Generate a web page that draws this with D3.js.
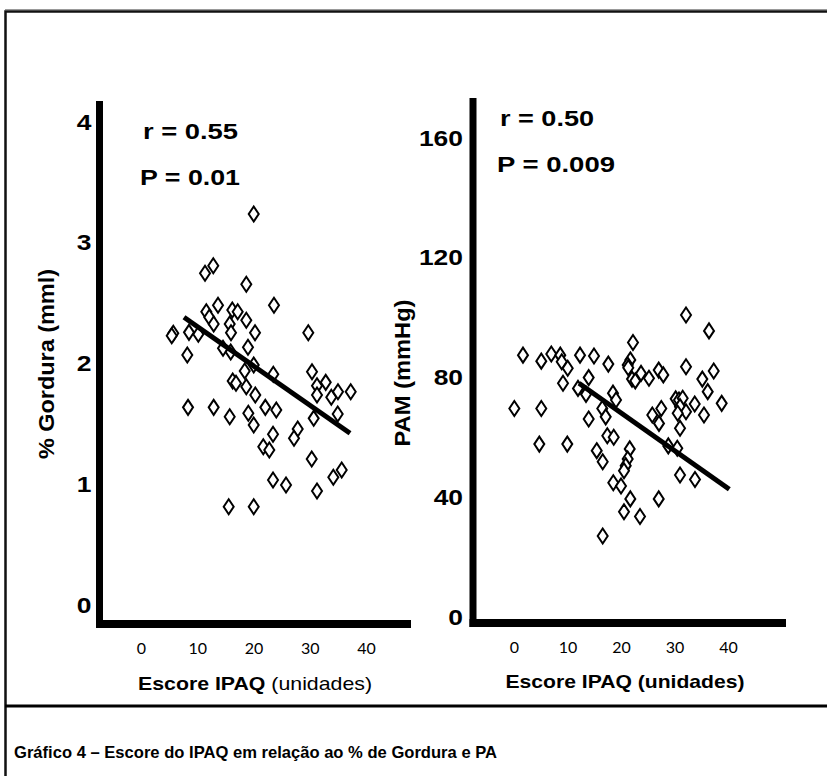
<!DOCTYPE html>
<html><head><meta charset="utf-8">
<script src="https://cdn.jsdelivr.net/npm/d3@7/dist/d3.min.js"></script>
<style>body{margin:0;background:#fff} svg{display:block}</style>
</head><body>
<svg id="chart" width="827" height="776"></svg>
<script>
// ---------- data ----------
const xTickValues = [0, 10, 20, 30, 40];
const leftYTickValues = [0, 1, 2, 3, 4];
const rightYTickValues = [0, 40, 80, 120, 160];

const leftIPAQ = [20.04,12.85,11.38,18.72,23.64,13.69,11.61,16.23,17.19,12.14,12.92,18.72,15.77,5.74,5.46,8.53,10.19,16.0,20.27,29.74,
  8.23,14.58,15.95,19.02,20.04,18.44,23.52,30.4,16.3,16.89,18.72,31.29,32.84,20.32,31.29,33.83,35.02,37.28,8.36,12.92,
  15.77,19.08,20.04,22.1,24.05,30.7,34.97,23.47,27.86,27.2,21.74,22.81,30.35,35.68,34.19,23.47,25.78,31.29,15.59,20.04];
const leftGordura = [3.238,2.810,2.747,2.656,2.482,2.482,2.429,2.443,2.429,2.383,2.327,2.358,2.327,2.250,2.230,2.258,2.242,2.255,2.255,2.255,
  2.070,2.126,2.095,2.134,1.988,1.938,1.911,1.932,1.855,1.836,1.808,1.816,1.844,1.739,1.739,1.720,1.766,1.766,1.637,1.637,
  1.559,1.588,1.491,1.637,1.615,1.546,1.582,1.414,1.458,1.381,1.311,1.284,1.209,1.118,1.058,1.035,0.994,0.944,0.814,0.814];

const rightIPAQ = [32.15,36.45,22.24,1.68,5.10,6.97,8.65,8.92,10.04,12.34,14.95,17.63,21.74,21.25,21.36,22.06,22.67,23.74,25.23,27.05,
  27.91,32.15,35.2,37.33,36.21,38.82,9.16,13.96,11.96,13.46,18.5,19.07,0.06,5.10,16.5,17.14,13.96,25.85,27.53,27.1,
  30.22,30.84,31.53,31.03,32.15,30.6,33.78,35.51,31.03,4.73,9.96,17.44,18.64,15.46,16.58,21.63,21.25,20.88,20.56,28.84,
  30.52,18.56,20.0,31.03,33.83,21.74,27.05,20.56,23.55,16.58];
const rightPAM = [100.9,95.6,91.7,87.5,85.5,87.9,87.5,85.3,83.1,87.5,87.2,84.5,85.9,84.2,83.3,79.5,78.9,81.4,79.8,82.5,
  80.9,83.6,79.5,82.2,75.3,71.4,78.1,80.0,76.4,74.4,74.8,72.5,69.7,69.7,69.7,66.9,66.2,67.5,69.7,64.7,
  72.9,72.5,73.1,70.3,68.6,68.1,71.2,67.5,63.1,57.8,57.8,60.6,60.1,55.6,51.9,56.2,52.8,50.6,48.9,57.2,
  56.4,44.9,43.8,47.5,46.0,39.5,39.5,35.2,33.6,27.1];

const leftFitIPAQ = [7.64, 37.16];
const leftFitGordura = [2.383, 1.422];
const rightFitIPAQ = [12.15, 40.24];
const rightFitPAM = [78.1, 42.7];

const leftStats = ["r = 0.55", "P = 0.01"];
const rightStats = ["r = 0.50", "P = 0.009"];
const leftYTitle = "% Gordura (mml)";
const rightYTitle = "PAM (mmHg)";
const caption = "Gráfico 4 – Escore do IPAQ em relação ao % de Gordura e PA";

// ---------- drawing ----------
const svg = d3.select("#chart");
const BOLD = "'Liberation Sans', Arial, sans-serif";
const NARROW = "'Liberation Sans Narrow', 'Arial Narrow', 'Liberation Sans', Arial, sans-serif";

// outer frame
svg.append("line").attr("x1", 5).attr("x2", 827).attr("y1", 9.5).attr("y2", 9.5)
  .attr("stroke", "#999").attr("stroke-width", 1);
svg.append("rect").attr("x", 5.5).attr("y", 11.5).attr("width", 840).attr("height", 800)
  .attr("fill", "none").attr("stroke", "#111").attr("stroke-width", 2.5);
svg.append("line").attr("x1", 5).attr("x2", 827).attr("y1", 706).attr("y2", 706)
  .attr("stroke", "#000").attr("stroke-width", 3);
svg.append("text").attr("x", 14).attr("y", 758).text(caption)
  .attr("font-family", NARROW).attr("font-weight", "bold").attr("font-size", 17)
  .attr("textLength", 483).attr("lengthAdjust", "spacingAndGlyphs");

const diamond = "M0,-7.5L5,0L0,7.5L-5,0Z";

function panel(cfg) {
  const x = d3.scaleLinear().domain([0, 40]).range(cfg.xRange);
  const y = d3.scaleLinear().domain(cfg.yDomain).range(cfg.yRange);
  const g = svg.append("g");

  // y axis labels
  const ya = g.append("g").attr("transform", `translate(${cfg.axisX},0)`)
    .call(d3.axisLeft(y).tickValues(cfg.yTicks).tickSize(0).tickPadding(cfg.yPad).tickFormat(d3.format("d")));
  ya.select(".domain").remove();
  ya.selectAll("text").attr("font-family", BOLD).attr("font-weight", "bold").attr("font-size", 22).attr("fill", "#000")
    .each(function(){ const w = this.getComputedTextLength(); d3.select(this).attr("textLength", w*1.2).attr("lengthAdjust","spacingAndGlyphs"); });

  // x axis labels
  const xa = g.append("g").attr("transform", `translate(0,${cfg.axisY})`)
    .call(d3.axisBottom(x).tickValues(xTickValues).tickSize(0).tickPadding(19));
  xa.select(".domain").remove();
  xa.selectAll("text").attr("font-family", "Lato, 'Open Sans', sans-serif").attr("font-size", 16).attr("fill", "#000");

  // thick axis lines
  g.append("line").attr("x1", cfg.axisX).attr("x2", cfg.axisX).attr("y1", cfg.axisTop).attr("y2", cfg.axisY + 4)
    .attr("stroke", "#000").attr("stroke-width", 7);
  g.append("line").attr("x1", cfg.axisX - 3.5).attr("x2", cfg.axisRight).attr("y1", cfg.axisY).attr("y2", cfg.axisY)
    .attr("stroke", "#000").attr("stroke-width", 8);

  // points
  g.append("g").selectAll("path").data(cfg.xs.map((v, i) => [v, cfg.ys[i]])).join("path")
    .attr("d", diamond)
    .attr("transform", d => `translate(${x(d[0])},${y(d[1])})`)
    .attr("fill", "#fff").attr("stroke", "#000").attr("stroke-width", 2);

  // regression line
  const line = d3.line().x(d => x(d[0])).y(d => y(d[1]));
  g.append("path").datum(cfg.fitX.map((v, i) => [v, cfg.fitY[i]]))
    .attr("d", line).attr("stroke", "#000").attr("stroke-width", 5).attr("fill", "none");

  // stats
  cfg.stats.forEach((s, i) => {
    g.append("text").attr("x", cfg.statPos[i][0]).attr("y", cfg.statPos[i][1]).text(s)
      .attr("font-family", BOLD).attr("font-weight", "bold").attr("font-size", 22)
      .attr("textLength", cfg.statLen[i]).attr("lengthAdjust", "spacingAndGlyphs");
  });

  // y title
  g.append("text").attr("transform", `translate(${cfg.yTitlePos[0]},${cfg.yTitlePos[1]}) rotate(-90)`)
    .attr("text-anchor", "middle").attr("font-family", BOLD).attr("font-weight", "bold").attr("font-size", 22)
    .attr("textLength", cfg.yTitleLen).attr("lengthAdjust", "spacingAndGlyphs").text(cfg.yTitle);

  // x title
  const xt = g.append("text").attr("x", cfg.xTitlePos[0]).attr("y", cfg.xTitlePos[1])
    .attr("text-anchor", "middle").attr("font-family", NARROW).attr("font-size", 19)
    .attr("textLength", cfg.xTitleLen).attr("lengthAdjust", "spacingAndGlyphs");
  xt.append("tspan").attr("font-weight", "bold").text("Escore IPAQ");
  xt.append("tspan").attr("font-weight", cfg.unitBold ? "bold" : "normal").text(" (unidades)");
}

panel({
  xRange: [141, 366], yDomain: [0, 4], yRange: [605, 122], yTicks: leftYTickValues,
  axisX: 99.5, axisY: 624, axisTop: 101, axisRight: 411, yPad: 8,
  xs: leftIPAQ, ys: leftGordura, fitX: leftFitIPAQ, fitY: leftFitGordura,
  stats: leftStats, statPos: [[143, 139], [140, 185]], statLen: [95, 100],
  yTitle: leftYTitle, yTitlePos: [54, 364], yTitleLen: 190,
  xTitlePos: [255, 690], xTitleLen: 234, unitBold: false
});
panel({
  xRange: [514, 728], yDomain: [0, 160], yRange: [617.2, 138], yTicks: rightYTickValues,
  axisX: 473, axisY: 623, axisTop: 98, axisRight: 786, yPad: 10,
  xs: rightIPAQ, ys: rightPAM, fitX: rightFitIPAQ, fitY: rightFitPAM,
  stats: rightStats, statPos: [[500, 126], [497, 172]], statLen: [94, 118],
  yTitle: rightYTitle, yTitlePos: [410, 373], yTitleLen: 147,
  xTitlePos: [625, 688], xTitleLen: 239, unitBold: true
});
</script>
</body></html>
